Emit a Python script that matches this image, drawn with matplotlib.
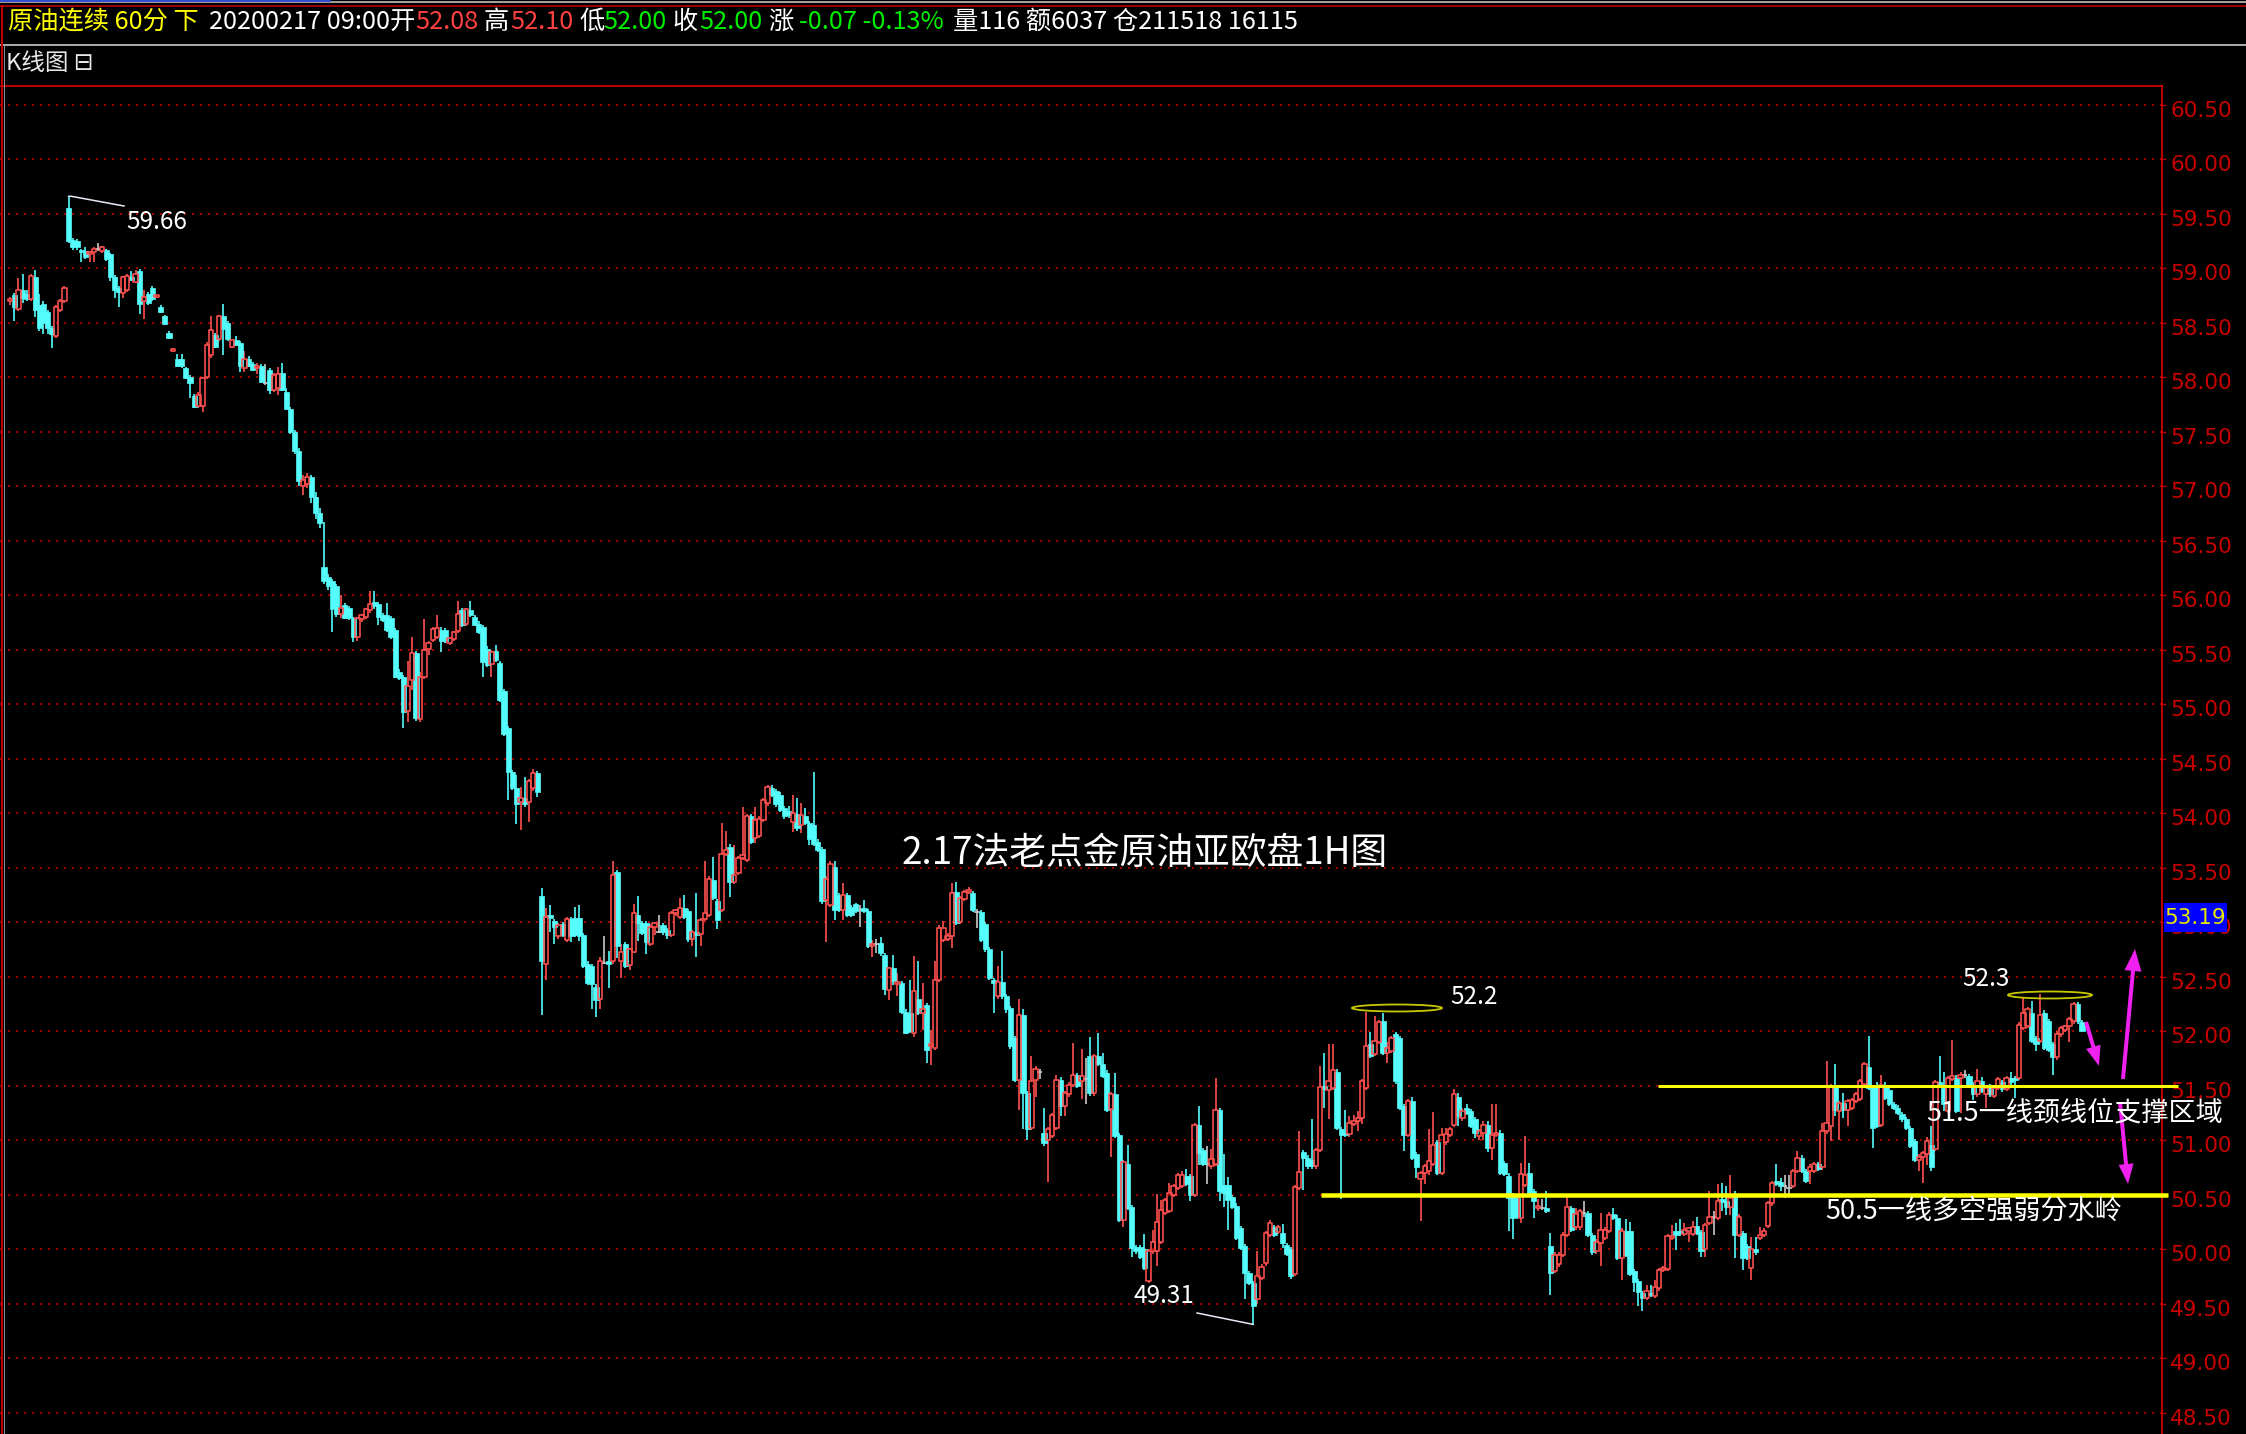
import numpy as np
import matplotlib
matplotlib.use("Agg")
import matplotlib.pyplot as plt
from matplotlib.collections import PolyCollection, LineCollection
from matplotlib.patches import Ellipse, Rectangle, FancyArrow
from matplotlib.transforms import ScaledTranslation

plt.rcParams['font.family'] = ['Noto Sans CJK SC', 'DejaVu Sans']

# ------------------------------------------------------------------ data
opens = [
    58.70, 58.75, 58.63, 58.80, 58.76, 58.72, 58.92, 58.66, 58.67, 58.60,
    58.45, 58.38, 58.62, 58.70, 59.55, 59.26, 59.25, 59.17, 59.16, 59.13,
    59.15, 59.18, 59.16, 59.17, 59.13, 58.92, 58.82, 58.77, 58.80, 58.92,
    58.87, 58.97, 58.70, 58.76, 58.82, 58.74, 58.64, 58.56, 58.41, 58.24,
    58.17, 58.17, 58.08, 58.00, 57.83, 57.74, 57.74, 58.00, 58.20, 58.39,
    58.35, 58.56, 58.50, 58.28, 58.34, 58.31, 58.08, 58.17, 58.12, 58.09,
    58.10, 57.95, 58.07, 57.88, 57.90, 58.04, 57.86, 57.71, 57.50, 57.32,
    57.00, 57.02, 57.08, 56.90, 56.75, 56.26, 56.17, 56.13, 56.08, 55.83,
    55.91, 55.88, 55.79, 55.62, 55.78, 55.80, 55.86, 55.94, 55.92, 55.82,
    55.82, 55.79, 55.68, 55.30, 55.25, 54.94, 55.22, 55.47, 54.86, 55.25,
    55.51, 55.59, 55.62, 55.68, 55.68, 55.56, 55.60, 55.67, 55.86, 55.74,
    55.86, 55.80, 55.74, 55.71, 55.51, 55.37, 55.49, 55.38, 55.12, 54.78,
    54.38, 54.23, 54.10, 54.14, 54.10, 54.23, 54.37, 53.24, 52.62, 53.07,
    53.01, 52.87, 52.98, 52.84, 53.03, 53.04, 53.04, 52.88, 52.62, 52.60,
    52.41, 52.30, 52.63, 52.64, 52.64, 53.46, 52.64, 52.80, 52.61, 52.73,
    53.07, 52.99, 52.99, 52.80, 52.96, 52.91, 52.97, 52.93, 52.88, 53.08,
    53.05, 53.13, 53.10, 52.85, 52.91, 52.89, 53.03, 53.07, 53.39, 53.19,
    53.11, 53.63, 53.69, 53.37, 53.45, 53.59, 53.57, 53.97, 53.77, 53.79,
    53.94, 54.09, 54.23, 54.20, 54.17, 54.05, 54.02, 53.92, 53.99, 53.89,
    53.97, 53.91, 53.89, 53.74, 53.67, 53.20, 53.16, 53.51, 53.25, 53.11,
    53.25, 53.14, 53.17, 53.11, 53.13, 53.10, 52.78, 52.80, 52.81, 52.70,
    52.38, 52.58, 52.44, 52.44, 52.18, 52.17, 51.98, 52.30, 52.17, 52.24,
    51.86, 51.85, 52.47, 52.84, 52.85, 52.87, 53.28, 53.00, 53.21, 53.28,
    53.27, 53.09, 53.09, 52.98, 52.75, 52.47, 52.32, 52.45, 52.32, 52.21,
    51.94, 51.55, 52.15, 51.43, 51.11, 51.55, 51.63, 51.07, 51.00, 51.04,
    51.11, 51.55, 51.31, 51.42, 51.51, 51.60, 51.54, 51.56, 51.77, 51.43,
    51.77, 51.70, 51.62, 51.29, 51.42, 51.05, 50.27, 50.78, 50.39, 50.02,
    50.02, 50.00, 49.71, 49.98, 49.98, 50.07, 50.33, 50.35, 50.50, 50.56,
    50.58, 50.67, 50.67, 50.50, 51.14, 50.91, 50.78, 50.76, 50.78, 51.28,
    50.59, 50.59, 50.48, 50.40, 50.19, 50.03, 49.78, 49.69, 49.54, 49.74,
    49.87, 50.13, 50.20, 50.16, 50.15, 50.04, 50.00, 49.77, 50.56, 50.89,
    50.84, 50.82, 50.76, 50.91, 51.50, 51.46, 51.48, 51.63, 51.10, 51.07,
    51.06, 51.15, 51.18, 51.20, 51.48, 51.88, 51.79, 51.90, 52.09, 51.80,
    51.82, 51.97, 51.94, 51.31, 51.05, 51.36, 50.87, 50.64, 50.70, 50.72,
    50.78, 50.98, 50.70, 50.98, 51.05, 51.14, 51.40, 51.20, 51.30, 51.27,
    51.19, 51.04, 51.07, 51.14, 50.93, 51.05, 51.07, 50.79, 50.67, 50.50,
    50.47, 50.29, 50.59, 50.70, 50.53, 50.38, 50.38, 50.38, 50.03, 49.80,
    49.86, 49.95, 50.13, 50.38, 50.20, 50.20, 50.33, 50.33, 50.13, 49.98,
    50.06, 50.10, 50.17, 50.32, 50.29, 49.92, 50.17, 50.17, 49.80, 49.71,
    49.60, 49.55, 49.60, 49.57, 49.64, 49.81, 49.82, 50.10, 50.17, 50.16,
    50.14, 50.17, 50.14, 50.21, 50.16, 50.00, 50.24, 50.30, 50.29, 50.46,
    50.44, 50.39, 50.49, 50.13, 50.15, 50.03, 49.83, 50.00, 50.10, 50.13,
    50.21, 50.42, 50.63, 50.62, 50.58, 50.56, 50.58, 50.72, 50.84, 50.72,
    50.72, 50.72, 50.78, 50.75, 51.08, 51.13, 51.51, 51.27, 51.34, 51.28,
    51.30, 51.36, 51.38, 51.52, 51.67, 51.48, 51.51, 51.14, 51.51, 51.46,
    51.33, 51.30, 51.24, 51.19, 51.11, 50.99, 50.82, 50.85, 50.87, 50.96,
    50.92, 51.53, 51.48, 51.27, 51.56, 51.57, 51.57, 51.60, 51.59, 51.51,
    51.42, 51.54, 51.42, 51.50, 51.41, 51.48, 51.53, 51.47, 51.57, 51.57,
    51.57, 52.03, 52.05, 52.17, 51.94, 51.91, 52.17, 52.09, 51.88, 51.76,
    51.97, 52.01, 52.05, 52.09, 52.25, 52.08,
]
highs = [
    58.74, 58.77, 58.91, 58.95, 58.80, 58.95, 58.98, 58.76, 58.70, 58.62,
    58.47, 58.66, 58.72, 58.84, 59.66, 59.28, 59.27, 59.18, 59.19, 59.16,
    59.19, 59.23, 59.20, 59.18, 59.14, 58.94, 58.84, 58.93, 58.95, 58.97,
    58.98, 58.99, 58.80, 58.78, 58.84, 58.75, 58.66, 58.57, 58.42, 58.27,
    58.21, 58.21, 58.09, 58.02, 57.85, 57.86, 58.00, 58.32, 58.56, 58.41,
    58.57, 58.67, 58.52, 58.35, 58.38, 58.33, 58.24, 58.19, 58.14, 58.13,
    58.12, 58.12, 58.08, 58.04, 58.09, 58.13, 57.90, 57.73, 57.52, 57.35,
    57.10, 57.12, 57.10, 56.95, 56.80, 56.67, 56.19, 56.15, 56.10, 56.00,
    55.93, 55.90, 55.80, 55.80, 55.83, 55.88, 56.04, 56.04, 55.94, 55.84,
    55.93, 55.81, 55.70, 55.32, 55.27, 55.40, 55.62, 55.49, 55.30, 55.78,
    55.58, 55.71, 55.82, 55.71, 55.70, 55.62, 55.67, 55.95, 55.88, 55.88,
    55.95, 55.82, 55.76, 55.73, 55.53, 55.50, 55.54, 55.40, 55.14, 54.80,
    54.40, 54.35, 54.24, 54.33, 54.31, 54.41, 54.39, 53.31, 53.13, 53.16,
    53.03, 52.99, 53.00, 53.05, 53.05, 53.14, 53.16, 52.90, 52.64, 52.62,
    52.43, 52.68, 52.87, 52.74, 53.56, 53.48, 52.80, 52.82, 52.76, 53.17,
    53.24, 53.01, 53.01, 52.98, 53.00, 53.07, 52.99, 52.95, 53.10, 53.12,
    53.22, 53.25, 53.12, 52.93, 53.27, 53.04, 53.56, 53.42, 53.60, 53.21,
    53.91, 53.84, 53.72, 53.71, 53.61, 54.06, 53.99, 53.99, 54.06, 53.97,
    54.14, 54.26, 54.26, 54.22, 54.19, 54.07, 54.07, 54.17, 54.14, 54.09,
    54.05, 53.93, 54.38, 53.76, 53.69, 53.42, 53.56, 53.56, 53.27, 53.36,
    53.27, 53.16, 53.18, 53.16, 53.20, 53.12, 52.84, 52.85, 52.86, 52.72,
    52.59, 52.70, 52.53, 52.46, 52.20, 52.47, 52.69, 52.64, 52.44, 52.26,
    52.01, 52.64, 52.97, 53.01, 52.90, 53.36, 53.37, 53.24, 53.30, 53.32,
    53.29, 53.12, 53.11, 53.00, 52.77, 52.49, 52.60, 52.74, 52.34, 52.23,
    51.96, 52.30, 52.20, 51.45, 51.77, 51.68, 51.65, 51.30, 51.12, 51.25,
    51.60, 51.58, 51.45, 51.53, 51.89, 51.62, 51.84, 51.75, 51.95, 51.79,
    51.98, 51.80, 51.64, 51.44, 51.62, 51.07, 50.82, 50.96, 50.41, 50.04,
    50.04, 50.14, 50.00, 50.18, 50.51, 50.45, 50.47, 50.61, 50.60, 50.70,
    50.72, 50.74, 50.69, 51.16, 51.31, 50.93, 50.95, 50.92, 51.57, 51.30,
    50.87, 50.66, 50.50, 50.42, 50.21, 50.05, 49.80, 49.71, 49.98, 49.86,
    50.17, 50.27, 50.22, 50.22, 50.23, 50.06, 50.02, 50.59, 51.08, 50.91,
    50.86, 51.19, 50.93, 51.68, 51.80, 51.88, 51.88, 51.65, 51.12, 51.28,
    51.22, 51.23, 51.27, 51.56, 52.18, 51.99, 52.14, 52.10, 52.17, 51.90,
    51.96, 51.99, 51.96, 51.33, 51.38, 51.40, 50.89, 50.72, 50.78, 51.10,
    51.26, 51.00, 51.11, 51.11, 51.12, 51.47, 51.43, 51.30, 51.33, 51.29,
    51.21, 51.10, 51.18, 51.18, 51.33, 51.33, 51.09, 50.81, 50.70, 50.52,
    50.49, 50.79, 51.04, 50.79, 50.55, 50.46, 50.46, 50.53, 50.15, 49.97,
    49.97, 50.16, 50.49, 50.40, 50.38, 50.37, 50.44, 50.35, 50.15, 50.09,
    50.33, 50.20, 50.34, 50.38, 50.31, 50.19, 50.28, 50.25, 49.82, 49.73,
    49.62, 49.67, 49.67, 49.72, 49.83, 49.85, 50.14, 50.22, 50.24, 50.28,
    50.24, 50.20, 50.26, 50.30, 50.18, 50.24, 50.53, 50.35, 50.60, 50.61,
    50.58, 50.68, 50.53, 50.32, 50.17, 50.05, 50.11, 50.11, 50.20, 50.19,
    50.44, 50.63, 50.78, 50.65, 50.68, 50.68, 50.74, 50.90, 50.86, 50.74,
    50.78, 50.80, 50.80, 51.16, 51.73, 51.52, 51.70, 51.36, 51.43, 51.38,
    51.39, 51.44, 51.56, 51.72, 51.96, 51.50, 51.53, 51.60, 51.53, 51.48,
    51.35, 51.32, 51.26, 51.21, 51.13, 51.01, 50.87, 50.90, 51.03, 51.13,
    51.55, 51.77, 51.63, 51.59, 51.92, 51.60, 51.63, 51.64, 51.61, 51.53,
    51.65, 51.58, 51.50, 51.52, 51.50, 51.58, 51.55, 51.59, 51.63, 51.59,
    52.08, 52.31, 52.22, 52.28, 51.96, 52.34, 52.19, 52.11, 51.90, 52.00,
    52.05, 52.06, 52.13, 52.27, 52.27, 52.10,
]
lows = [
    58.66, 58.52, 58.61, 58.68, 58.70, 58.70, 58.55, 58.42, 58.40, 58.40,
    58.27, 58.36, 58.60, 58.68, 59.23, 59.17, 59.17, 59.06, 59.08, 59.06,
    59.06, 59.16, 59.14, 59.07, 58.88, 58.73, 58.64, 58.73, 58.78, 58.88,
    58.86, 58.58, 58.53, 58.66, 58.70, 58.73, 58.59, 58.48, 58.35, 58.23,
    58.09, 58.08, 57.98, 57.81, 57.72, 57.72, 57.68, 57.98, 58.18, 58.27,
    58.33, 58.20, 58.33, 58.27, 58.29, 58.05, 58.05, 58.09, 58.06, 58.03,
    57.95, 57.93, 57.85, 57.86, 57.84, 57.87, 57.70, 57.48, 57.30, 57.00,
    56.92, 56.98, 56.85, 56.70, 56.62, 56.10, 56.05, 55.66, 55.80, 55.79,
    55.78, 55.77, 55.57, 55.58, 55.75, 55.78, 55.84, 55.87, 55.73, 55.75,
    55.66, 55.60, 55.24, 55.22, 54.78, 54.84, 55.13, 54.85, 54.84, 55.23,
    55.45, 55.57, 55.60, 55.48, 55.56, 55.54, 55.58, 55.65, 55.71, 55.72,
    55.80, 55.72, 55.64, 55.25, 55.34, 55.25, 55.39, 55.02, 54.71, 54.12,
    54.21, 53.90, 53.85, 54.06, 53.92, 54.20, 54.15, 52.15, 52.47, 52.91,
    52.80, 52.85, 52.86, 52.82, 52.82, 52.86, 52.83, 52.58, 52.42, 52.20,
    52.13, 52.20, 52.62, 52.40, 52.62, 52.67, 52.49, 52.58, 52.56, 52.72,
    52.83, 52.88, 52.71, 52.78, 52.88, 52.90, 52.88, 52.85, 52.86, 53.06,
    53.03, 53.03, 52.82, 52.78, 52.68, 52.78, 53.01, 53.05, 53.20, 52.94,
    53.09, 53.61, 53.23, 53.35, 53.43, 53.57, 53.55, 53.72, 53.73, 53.77,
    53.92, 54.07, 54.15, 54.06, 54.01, 53.95, 53.96, 53.83, 53.84, 53.82,
    53.89, 53.71, 53.70, 53.64, 53.17, 52.82, 53.14, 53.02, 53.09, 53.02,
    53.05, 53.05, 53.08, 52.96, 53.08, 52.76, 52.68, 52.72, 52.69, 52.33,
    52.29, 52.42, 52.32, 52.16, 51.97, 51.98, 51.95, 52.15, 52.01, 51.71,
    51.69, 51.83, 52.45, 52.82, 52.83, 52.76, 52.97, 52.98, 53.19, 53.26,
    53.09, 52.95, 52.82, 52.73, 52.47, 52.17, 52.30, 52.30, 52.17, 51.84,
    51.53, 51.28, 51.10, 51.00, 51.09, 51.40, 51.56, 50.95, 50.62, 51.02,
    51.09, 51.22, 51.22, 51.40, 51.49, 51.48, 51.38, 51.33, 51.41, 51.41,
    51.68, 51.57, 51.26, 50.85, 51.02, 50.25, 50.20, 50.36, 49.93, 49.96,
    49.91, 49.81, 49.69, 49.96, 49.85, 50.05, 50.31, 50.33, 50.48, 50.54,
    50.56, 50.58, 50.44, 50.48, 50.77, 50.76, 50.60, 50.74, 50.76, 50.44,
    50.39, 50.18, 50.37, 50.08, 49.99, 49.54, 49.67, 49.31, 49.50, 49.72,
    49.85, 50.11, 50.11, 50.14, 50.01, 49.94, 49.73, 49.75, 50.54, 50.54,
    50.74, 50.74, 50.74, 50.89, 51.30, 51.19, 51.46, 51.09, 50.46, 51.03,
    51.03, 51.13, 51.08, 51.15, 51.46, 51.75, 51.77, 51.88, 51.78, 51.71,
    51.80, 51.52, 51.28, 50.90, 51.03, 50.82, 50.65, 50.26, 50.60, 50.68,
    50.76, 50.68, 50.68, 50.96, 51.03, 51.12, 51.13, 51.18, 51.23, 51.11,
    51.02, 51.00, 51.00, 50.89, 50.82, 51.03, 50.68, 50.67, 50.17, 50.09,
    50.28, 50.24, 50.57, 50.48, 50.29, 50.35, 50.36, 50.33, 49.58, 49.78,
    49.84, 49.93, 50.11, 50.16, 50.18, 50.18, 50.30, 50.11, 49.95, 49.96,
    49.85, 50.08, 50.15, 50.27, 49.90, 49.72, 49.93, 49.75, 49.61, 49.48,
    49.43, 49.53, 49.56, 49.55, 49.62, 49.79, 49.80, 50.08, 49.99, 50.12,
    50.12, 50.07, 50.12, 50.13, 49.93, 49.93, 50.22, 50.13, 50.27, 50.35,
    50.31, 50.31, 49.92, 50.11, 49.81, 49.90, 49.72, 49.95, 50.08, 50.11,
    50.19, 50.40, 50.58, 50.53, 50.47, 50.50, 50.56, 50.70, 50.70, 50.61,
    50.60, 50.70, 50.72, 50.73, 51.06, 50.99, 51.22, 51.00, 51.20, 51.13,
    51.28, 51.34, 51.36, 51.50, 51.46, 50.93, 51.11, 51.12, 51.37, 51.31,
    51.28, 51.23, 51.17, 51.09, 50.93, 50.80, 50.72, 50.61, 50.77, 50.72,
    50.90, 51.48, 51.27, 51.25, 51.54, 51.25, 51.25, 51.57, 51.49, 51.37,
    51.40, 51.43, 51.30, 51.40, 51.39, 51.46, 51.44, 51.45, 51.51, 51.39,
    51.55, 52.01, 52.03, 51.89, 51.82, 51.89, 51.83, 51.81, 51.60, 51.74,
    51.95, 51.99, 51.90, 52.07, 52.07, 52.00,
]
closes = [
    58.72, 58.64, 58.80, 58.73, 58.72, 58.93, 58.62, 58.45, 58.50, 58.45,
    58.40, 58.64, 58.70, 58.82, 59.25, 59.19, 59.19, 59.15, 59.10, 59.15,
    59.18, 59.18, 59.19, 59.08, 58.92, 58.80, 58.78, 58.92, 58.93, 58.89,
    58.95, 58.67, 58.74, 58.68, 58.72, 58.75, 58.60, 58.49, 58.36, 58.26,
    58.10, 58.10, 57.99, 57.95, 57.73, 57.84, 57.99, 58.30, 58.43, 58.28,
    58.56, 58.44, 58.35, 58.34, 58.30, 58.10, 58.17, 58.10, 58.07, 58.10,
    57.96, 57.95, 57.88, 58.02, 58.03, 57.88, 57.71, 57.50, 57.32, 57.05,
    57.06, 57.08, 56.90, 56.75, 56.66, 56.13, 56.08, 55.87, 55.83, 55.88,
    55.79, 55.79, 55.62, 55.79, 55.82, 55.87, 55.92, 55.90, 55.80, 55.77,
    55.68, 55.62, 55.25, 55.24, 54.93, 55.17, 55.47, 54.87, 55.25, 55.50,
    55.56, 55.69, 55.70, 55.58, 55.58, 55.61, 55.66, 55.83, 55.73, 55.87,
    55.82, 55.73, 55.66, 55.39, 55.36, 55.48, 55.41, 55.04, 54.73, 54.38,
    54.23, 54.08, 54.14, 54.08, 54.30, 54.37, 54.19, 52.64, 53.05, 53.04,
    52.96, 52.97, 52.88, 53.03, 52.87, 52.88, 52.87, 52.60, 52.44, 52.43,
    52.29, 52.64, 52.63, 52.62, 53.43, 52.78, 52.73, 52.60, 52.75, 53.08,
    52.99, 52.90, 52.82, 52.96, 52.99, 52.91, 52.91, 52.88, 53.08, 53.11,
    53.13, 53.05, 52.85, 52.91, 52.88, 53.02, 53.08, 53.40, 53.22, 53.02,
    53.63, 53.66, 53.37, 53.43, 53.59, 53.62, 53.97, 53.74, 53.94, 53.95,
    54.12, 54.24, 54.17, 54.08, 54.03, 53.97, 53.98, 54.00, 53.86, 53.98,
    53.91, 53.76, 53.72, 53.66, 53.19, 53.40, 53.53, 53.11, 53.11, 53.25,
    53.07, 53.07, 53.10, 53.11, 53.10, 52.78, 52.80, 52.80, 52.72, 52.39,
    52.58, 52.46, 52.45, 52.18, 51.98, 52.00, 52.37, 52.17, 52.20, 51.83,
    51.88, 52.47, 52.95, 52.95, 52.87, 53.27, 52.99, 53.22, 53.28, 53.30,
    53.11, 53.09, 52.84, 52.75, 52.49, 52.44, 52.45, 52.32, 52.20, 51.86,
    51.55, 52.15, 51.43, 51.10, 51.54, 51.65, 51.63, 50.97, 51.10, 51.23,
    51.55, 51.31, 51.43, 51.51, 51.60, 51.50, 51.59, 51.56, 51.43, 51.77,
    51.70, 51.59, 51.28, 51.42, 51.04, 50.27, 50.80, 50.38, 50.01, 49.98,
    49.93, 49.83, 49.98, 50.07, 50.25, 50.36, 50.45, 50.52, 50.58, 50.68,
    50.68, 50.60, 50.50, 51.14, 50.88, 50.78, 50.78, 50.83, 51.28, 50.53,
    50.52, 50.45, 50.39, 50.10, 50.01, 49.78, 49.69, 49.48, 49.75, 49.84,
    50.15, 50.24, 50.13, 50.20, 50.06, 49.96, 49.75, 50.57, 50.71, 50.84,
    50.76, 50.76, 50.91, 51.49, 51.47, 51.54, 51.64, 51.11, 51.05, 51.05,
    51.16, 51.18, 51.20, 51.54, 51.86, 51.77, 51.91, 52.08, 51.80, 51.85,
    51.94, 51.54, 51.30, 51.05, 51.36, 50.84, 50.75, 50.70, 50.76, 50.81,
    50.96, 50.70, 51.05, 51.06, 51.10, 51.42, 51.22, 51.27, 51.25, 51.13,
    51.07, 51.08, 51.14, 50.93, 51.05, 51.07, 50.70, 50.69, 50.47, 50.29,
    50.30, 50.69, 50.68, 50.50, 50.44, 50.40, 50.38, 50.35, 49.78, 49.95,
    49.95, 50.13, 50.39, 50.18, 50.32, 50.35, 50.33, 50.13, 49.97, 50.07,
    50.18, 50.18, 50.31, 50.29, 49.92, 50.17, 49.95, 49.77, 49.70, 49.61,
    49.55, 49.62, 49.58, 49.65, 49.81, 49.83, 50.12, 50.12, 50.13, 50.15,
    50.18, 50.19, 50.20, 50.15, 49.98, 50.22, 50.30, 50.30, 50.44, 50.43,
    50.39, 50.47, 50.13, 50.30, 49.92, 49.92, 50.00, 49.97, 50.13, 50.17,
    50.42, 50.61, 50.60, 50.58, 50.58, 50.56, 50.72, 50.84, 50.72, 50.63,
    50.75, 50.78, 50.74, 51.08, 51.16, 51.50, 51.28, 51.34, 51.28, 51.36,
    51.37, 51.42, 51.54, 51.70, 51.48, 51.11, 51.13, 51.51, 51.39, 51.33,
    51.30, 51.25, 51.19, 51.11, 50.95, 50.82, 50.85, 50.88, 50.99, 50.75,
    51.53, 51.50, 51.33, 51.57, 51.59, 51.27, 51.60, 51.60, 51.51, 51.42,
    51.54, 51.45, 51.48, 51.42, 51.48, 51.56, 51.47, 51.57, 51.53, 51.55,
    52.06, 52.17, 52.20, 51.91, 51.88, 52.15, 51.85, 51.83, 51.76, 51.97,
    52.03, 52.05, 52.11, 52.25, 52.09, 52.00,
]

y_ticks = [48.50, 49.00, 49.50, 50.00, 50.50, 51.00, 51.50, 52.00, 52.50,
           53.00, 53.50, 54.00, 54.50, 55.00, 55.50, 56.00, 56.50, 57.00,
           57.50, 58.00, 58.50, 59.00, 59.50, 60.00, 60.50]
tick_labels = ["48.50", "49.00", "49.50", "50.00", "50.50", "51.00", "51.50",
               "52.00", "52.50", "53.00", "53.50", "54.00", "54.50", "55.00",
               "55.50", "56.00", "56.50", "57.00", "57.50", "58.00", "58.50",
               "59.00", "59.50", "60.00", "60.50"]

header_texts = ["原油连续 60分 下", "20200217 09:00开", "52.08", "高", "52.10",
                "低", "52.00", "收", "52.00", "涨", "-0.07 -0.13%",
                "量116 额6037 仓211518 16115"]
header_colors = ["#FFFF00", "#FFFFFF", "#FF4040", "#FFFFFF", "#FF4040",
                 "#FFFFFF", "#00F000", "#FFFFFF", "#00F000", "#FFFFFF",
                 "#00F000", "#FFFFFF"]
header_x = [8, 209, 415, 484, 510, 579, 603, 673, 699, 768, 799, 953]

peak_label, peak_price, peak_bar = "59.66", 59.66, 14
trough_label, trough_price, trough_bar = "49.31", 49.31, 297
top1_label = "52.2"
top2_label = "52.3"
last_price_label = "53.19"
title_text = "2.17法老点金原油亚欧盘1H图"
level_values = [51.5, 50.5]
level_texts = ["51.5一线颈线位支撑区域", "50.5一线多空强弱分水岭"]

# ------------------------------------------------------------------ layout
W, H = 2246, 1434
fig = plt.figure(figsize=(W / 100, H / 100), dpi=100, facecolor="black")

AX_L, AX_R, AX_T, AX_B = 0, 2162, 86, 1434
ax = fig.add_axes([AX_L / W, 1 - AX_B / H, (AX_R - AX_L) / W, (AX_B - AX_T) / H])
ax.set_facecolor("black")

N = min(len(opens), len(highs), len(lows), len(closes))
X0, X1 = 10.0, 2082.0
step = (X1 - X0) / (N - 1)
Y_REF, P_REF, PPU = 213.7, 59.5, 109.0


def price_at(py):
    return P_REF - (py - Y_REF) / PPU


def bar_at(px):
    return (px - X0) / step


ax.set_xlim(bar_at(AX_L), bar_at(AX_R))
ax.set_ylim(price_at(AX_B), price_at(AX_T))

# grid
for p in y_ticks:
    ax.axhline(p, color="#C00000", lw=1.2, ls=(0, (1.2, 3.6)), zorder=1)

# ------------------------------------------------------------------ candles
o = np.array(opens[:N]); hi = np.array(highs[:N]); lo = np.array(lows[:N]); c = np.array(closes[:N])
idx = np.arange(N)
RED = "#FF5050"
CYAN = "#54FCFC"
GRAY = "#C8C8C8"
HW_F, HW_H = 0.62, 0.52
MIN_H = 0.016


def body(i, a, b, hw):
    y0, y1 = min(a, b), max(a, b)
    if y1 - y0 < MIN_H:
        m = (y0 + y1) / 2
        y0, y1 = m - MIN_H / 2, m + MIN_H / 2
    return [(i - hw, y0), (i - hw, y1), (i + hw, y1), (i + hw, y0)]


up_i = idx[c > o]
dn_i = idx[c < o]
dj_i = idx[c == o]

dn_wicks = [[(i, min(lo[i], c[i])), (i, max(hi[i], o[i]))] for i in dn_i]
up_wicks = []
for i in up_i:
    up_wicks.append([(i, lo[i]), (i, o[i])])
    up_wicks.append([(i, c[i]), (i, hi[i])])
dj_wicks = [[(i, lo[i]), (i, hi[i])] for i in dj_i] + \
           [[(i - HW_F, o[i]), (i + HW_F, o[i])] for i in dj_i]

ax.add_collection(LineCollection(dn_wicks, colors=CYAN, linewidths=1.2, zorder=3))
ax.add_collection(PolyCollection([body(i, o[i], c[i], HW_F) for i in dn_i],
                                 facecolors=CYAN, edgecolors=CYAN, linewidths=0.5, zorder=4))
ax.add_collection(LineCollection(up_wicks, colors=RED, linewidths=1.2, zorder=3))
ax.add_collection(PolyCollection([body(i, o[i], c[i], HW_H) for i in up_i],
                                 facecolors="none", edgecolors=RED, linewidths=1.15, zorder=5))
ax.add_collection(LineCollection(dj_wicks, colors=GRAY, linewidths=1.2, zorder=3))

# axis styling
for sp in ["left", "bottom"]:
    ax.spines[sp].set_visible(False)
for sp in ["right", "top"]:
    ax.spines[sp].set_color("#C00000")
    ax.spines[sp].set_linewidth(1.4)
ax.set_xticks([])
ax.yaxis.tick_right()
ax.set_yticks(y_ticks)
ax.set_yticklabels(tick_labels)
ax.tick_params(axis="y", colors="#C00000", length=3, width=1, pad=3,
               labelsize=15.5, labelcolor="#C80000")
for t in ax.get_yticklabels():
    t.set_fontfamily("DejaVu Sans")
    t.set_transform(t.get_transform() + ScaledTranslation(0, -4 / 100, fig.dpi_scale_trans))

# support / watershed lines
ax.plot([bar_at(1658), bar_at(2178)], [level_values[0]] * 2, color="#FFFF00",
        lw=3 * 0.72, clip_on=False, zorder=6, solid_capstyle="butt")
ax.plot([bar_at(1321), bar_at(2168)], [level_values[1]] * 2, color="#FFFF00",
        lw=4.5 * 0.72, clip_on=False, zorder=6, solid_capstyle="butt")

# leader lines for extremes
ax.plot([peak_bar, peak_bar + 0.6, bar_at(124)], [peak_price, peak_price, price_at(206)],
        color="#E8E8F8", lw=1.1, zorder=7, clip_on=False)
ax.plot([bar_at(1197), trough_bar], [price_at(1313), trough_price],
        color="#E8E8F8", lw=1.1, zorder=7, clip_on=False)

# ------------------------------------------------------------------ overlay (pixel coords)
ov = fig.add_axes([0, 0, 1, 1])
ov.set_xlim(0, W)
ov.set_ylim(H, 0)
ov.axis("off")
ov.patch.set_visible(False)

# frame lines
ov.plot([0, W], [2, 2], color="#A0A0A0", lw=2 * 0.72)
ov.plot([0, 330], [1, 1], color="#3050D0", lw=2 * 0.72)
ov.plot([0, W], [6, 6], color="#C00000", lw=1.6 * 0.72)
ov.plot([0, W], [45, 45], color="#A8A8A8", lw=2 * 0.72)
ov.plot([1.5, 1.5], [6, H], color="#C00000", lw=2 * 0.72)
ov.plot([3.5, 3.5], [45, H], color="#909090", lw=1 * 0.72)

# header
for txt, col, xx in zip(header_texts, header_colors, header_x):
    ov.text(xx, 22, txt, color=col, fontsize=18.2, ha="left", va="center")
ov.text(6, 64, "K线图 ⊟", color="#E8E8E8", fontsize=17, ha="left", va="center",
        family=["Noto Sans CJK SC", "DejaVu Sans"])

# title
ov.text(902, 853, title_text, color="white", fontsize=26.5, ha="left", va="center")

# extreme labels
ov.text(126, 222, peak_label, color="white", fontsize=17.5, ha="left", va="center")
ov.text(1133, 1296, trough_label, color="white", fontsize=17.5, ha="left", va="center")
ov.text(1450, 997, top1_label, color="white", fontsize=17.5, ha="left", va="center")
ov.text(1962, 979, top2_label, color="white", fontsize=17.5, ha="left", va="center")

# ellipses marking the tops
ov.add_patch(Ellipse((1397, 1008), 90, 7, fill=False, ec="#C8C800", lw=1.3))
ov.add_patch(Ellipse((2050, 995), 84, 7, fill=False, ec="#C8C800", lw=1.3))

# level texts
ov.text(1926, 1113, level_texts[0], color="white", fontsize=19.5, ha="left", va="center")
ov.text(1825, 1211, level_texts[1], color="white", fontsize=19.5, ha="left", va="center")

# magenta arrows
MAG = "#F020F0"
ov.add_patch(FancyArrow(2123, 1079, 12, -130, width=4, head_width=17, head_length=22,
                        length_includes_head=True, color=MAG, lw=0))
ov.add_patch(FancyArrow(2086, 1022, 13, 44, width=4, head_width=15, head_length=20,
                        length_includes_head=True, color=MAG, lw=0))
ov.add_patch(FancyArrow(2120, 1102, 8, 82, width=4, head_width=15, head_length=20,
                        length_includes_head=True, color=MAG, lw=0))

# last price box on the axis (covers the 53.00 label as in the source chart)
ov.add_patch(Rectangle((2164, 903), 63, 29, facecolor="#0000FF", edgecolor="none", zorder=8))
ov.text(2195.5, 918, last_price_label, color="#E8E800", fontsize=15.5, ha="center",
        va="center", family="DejaVu Sans", zorder=9)

fig.savefig("out.png", dpi=100, facecolor="black")
